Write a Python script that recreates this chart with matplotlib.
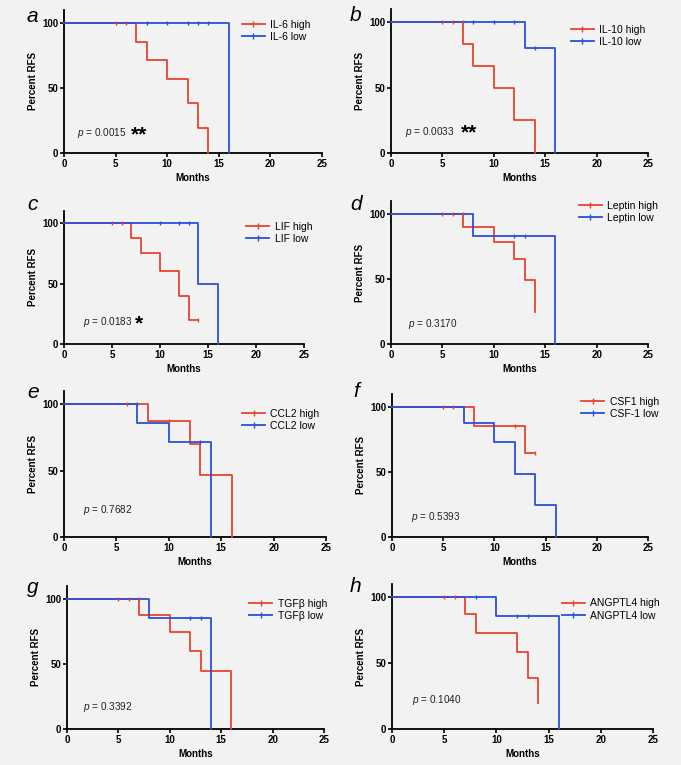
import numpy as np
import matplotlib.pyplot as plt

plt.rcParams['font.family'] = ['Liberation Sans', 'DejaVu Sans']
plt.rcParams['mathtext.fontset'] = 'custom'
plt.rcParams['mathtext.it'] = 'Liberation Sans:italic'
plt.rcParams['mathtext.rm'] = 'Liberation Sans'

RED = '#e8432d'
BLUE = '#2b4fd8'
BG = '#f2f2f2'

letters = ['a', 'b', 'c', 'd', 'e', 'f', 'g', 'h']
names = ['IL-6', 'IL-10', 'LIF', 'Leptin', 'CCL2', 'CSF1', 'TGF\u03b2', 'ANGPTL4']
low_names = ['IL-6', 'IL-10', 'LIF', 'Leptin', 'CCL2', 'CSF-1', 'TGF\u03b2', 'ANGPTL4']
pvals = ['0.0015', '0.0033', '0.0183', '0.3170', '0.7682', '0.5393', '0.3392', '0.1040']
stars = ['**', '**', '*', '', '', '', '', '']

# step curves (time, percent surviving)
high_t = [[0, 7, 8, 10, 12, 13, 14],
          [0, 7, 8, 10, 12, 14],
          [0, 7, 8, 10, 12, 13, 14],
          [0, 7, 10, 12, 13, 14],
          [0, 8, 12, 13, 16],
          [0, 8, 13, 14],
          [0, 7, 10, 12, 13, 16],
          [0, 7, 8, 12, 13, 14]]
high_s = [[100, 85.7, 71.4, 57.1, 38.1, 19.0, 0],
          [100, 83.3, 66.7, 50, 25, 0],
          [100, 87.5, 75, 60, 40, 20, 20],
          [100, 90, 78.8, 65.6, 49.2, 24.6],
          [100, 87.5, 70, 46.7, 0],
          [100, 85.7, 64.3, 64.3],
          [100, 87.5, 75, 60, 45, 0],
          [100, 87.5, 72.9, 58.3, 38.9, 19.4]]
low_t = [[0, 16],
         [0, 13, 16],
         [0, 14, 16],
         [0, 8, 16],
         [0, 7, 10, 14],
         [0, 7, 10, 12, 14, 16],
         [0, 8, 14],
         [0, 10, 16]]
low_s = [[100, 0],
         [100, 80, 0],
         [100, 50, 0],
         [100, 83.3, 0],
         [100, 85.7, 71.4, 0],
         [100, 87.5, 72.9, 48.6, 24.3, 0],
         [100, 85.7, 0],
         [100, 85.7, 0]]

# censored marks
high_ct = [[5, 6], [5, 6, 7], [5, 6, 14], [5, 6, 7], [6, 10], [5, 6, 12, 14], [5, 6, 7], [5, 6]]
high_cs = [[100, 100], [100, 100, 100], [100, 100, 20], [100, 100, 100], [100, 87.5],
           [100, 100, 85.7, 64.3], [100, 100, 100], [100, 100]]
low_ct = [[8, 10, 12, 13, 14], [8, 10, 12, 14], [10, 12, 13], [12, 13], [7, 13], [], [12, 13], [8, 12, 13]]
low_cs = [[100, 100, 100, 100, 100], [100, 100, 100, 80], [100, 100, 100], [83.3, 83.3],
          [100, 71.4], [], [85.7, 85.7], [100, 85.7, 85.7]]

# layout in pixels: left, right(x=25), bottom(y=0), top(y=110)
boxes = [(64, 322, 153, 10), (391, 648, 153, 9), (64, 304, 344, 211), (391, 648, 344, 201),
         (64, 326, 537, 391), (392, 648, 537, 394), (67, 324, 729, 586), (392, 653, 729, 584)]
leg_pos = [(0.69, 0.93), (0.70, 0.89), (0.76, 0.92), (0.73, 1.00),
           (0.68, 0.88), (0.74, 0.98), (0.71, 0.91), (0.65, 0.90)]
p_pos = [(1.3, 15), (1.4, 16), (2.0, 18), (1.7, 15), (1.8, 20), (1.9, 15), (1.6, 17), (1.9, 22)]
star_x = [6.5, 6.8, 7.4]
letter_pos = [(27, 22), (350, 21), (27, 210), (350, 210), (27, 398), (353, 397), (27, 593), (350, 592)]

W, H = 681, 765
fig = plt.figure(figsize=(W / 100, H / 100), dpi=100, facecolor=BG)

for i in range(8):
    l, r, b, t = boxes[i]
    ax = fig.add_axes([l / W, 1 - b / H, (r - l) / W, (b - t) / H])
    ax.set_facecolor(BG)
    ax.plot(high_t[i], high_s[i], drawstyle='steps-post', color=RED, lw=1.3,
            label=names[i] + ' high', clip_on=False, zorder=3)
    ax.plot(low_t[i], low_s[i], drawstyle='steps-post', color=BLUE, lw=1.3,
            label=low_names[i] + ' low', clip_on=False, zorder=3)
    ax.plot(high_ct[i], high_cs[i], ls='none', marker='|', ms=3.5, mew=1, color=RED, clip_on=False, zorder=4)
    ax.plot(low_ct[i], low_cs[i], ls='none', marker='|', ms=3.5, mew=1, color=BLUE, clip_on=False, zorder=4)

    ax.set_xlim(0, 25)
    ax.set_ylim(0, 110)
    ax.set_xticks([0, 5, 10, 15, 20, 25])
    ax.set_yticks([0, 50, 100])
    for s in ['top', 'right']:
        ax.spines[s].set_visible(False)
    for s in ['left', 'bottom']:
        ax.spines[s].set_linewidth(1.3)
    ax.tick_params(direction='out', length=3, width=1.2, labelsize=7, pad=1)
    for lab in ax.get_xticklabels() + ax.get_yticklabels():
        lab.set_fontweight('bold')
    ax.set_xlabel('Months', fontsize=7, fontweight='bold', labelpad=3)
    ax.set_ylabel('Percent RFS', fontsize=7, fontweight='bold', labelpad=3)

    # legend handles with a tick mark in the middle
    h1, = ax.plot([], [], color=RED, lw=1.3, marker='|', ms=4, mew=1)
    h2, = ax.plot([], [], color=BLUE, lw=1.3, marker='|', ms=4, mew=1)
    ax.legend([h1, h2], [names[i] + ' high', low_names[i] + ' low'], loc='upper left',
              bbox_to_anchor=leg_pos[i], frameon=False, fontsize=7.5, handlelength=2.2,
              handletextpad=0.5, labelspacing=0.2, borderaxespad=0, borderpad=0)

    px, py = p_pos[i]
    ax.text(px, py, '$p$ = ' + pvals[i], fontsize=7.2, color='#222222', va='center')
    if stars[i]:
        ax.text(star_x[i], py - 1, stars[i], fontsize=15, fontweight='bold', va='center')

    lx, ly = letter_pos[i]
    fig.text(lx / W, 1 - ly / H, letters[i], fontsize=15, style='italic', va='baseline')

fig.savefig('out.png', dpi=100, facecolor=BG)
